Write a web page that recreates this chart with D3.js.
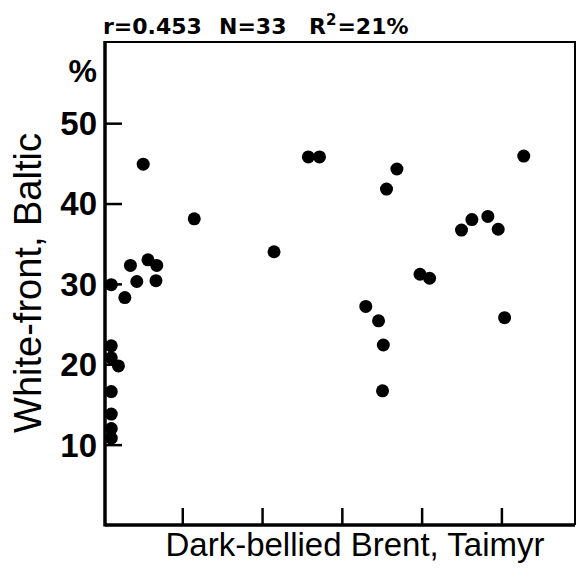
<!DOCTYPE html>
<html>
<head>
<meta charset="utf-8">
<script src="https://cdn.jsdelivr.net/npm/d3@7"></script>
<style>
  html, body { margin: 0; padding: 0; background: #fff; }
  svg { display: block; font-family: "Liberation Sans", Arial, sans-serif; }
</style>
</head>
<body>
<svg id="chart" width="577" height="569"></svg>
<script>
/* Scatter: White-front (Baltic) vs Dark-bellied Brent (Taimyr), % values. */

const brent = [5.1, 11.5, 21.5, 3.5, 5.7, 6.8, 4.3, 6.7, 2.8, 1.1, 1.1, 1.1, 2.0, 1.1, 1.1, 1.1, 1.1,
  25.8, 27.2, 36.9, 35.6, 52.8, 46.3, 45.0, 48.3, 49.6, 39.8, 41.0, 33.0, 34.6, 35.2, 35.1, 50.4];
const whiteFront = [44.9, 38.1, 34.0, 32.3, 33.0, 32.3, 30.3, 30.4, 28.3, 29.9, 22.3, 20.8, 19.8, 16.6, 13.8, 12.0, 10.8,
  45.8, 45.8, 44.3, 41.8, 45.9, 38.0, 36.7, 38.4, 36.8, 31.2, 30.7, 27.2, 25.4, 22.4, 16.7, 25.8];
const xTicks = [10, 20, 30, 40, 50];
const yTicks = [10, 20, 30, 40, 50];
const statsText = ["r=0.453", "N=33", "R"];

(() => {
  const svg = d3.select("#chart");
  const L = 105, R = 575, T = 42, B = 525;

  const x = d3.scaleLinear().domain([0, 59.1]).range([102.5, 574]);
  const y = d3.scaleLinear().domain([0, 60.1]).range([B, T]);

  // frame: thin top/right, heavy left/bottom
  svg.append("path")
    .attr("d", `M${L},${T}H${R}V${B}`)
    .attr("fill", "none").attr("stroke", "#000").attr("stroke-width", 2);

  // axes with inward ticks
  const xAxis = svg.append("g").attr("transform", `translate(0,${B})`)
    .call(d3.axisTop(x).tickValues(xTicks).tickSize(17).tickFormat(""));
  const yAxis = svg.append("g").attr("transform", `translate(${L},0)`)
    .call(d3.axisRight(y).tickValues(yTicks).tickSize(17).tickFormat(""));
  [xAxis, yAxis].forEach((g) => {
    g.select(".domain").remove();
    g.selectAll(".tick line").attr("stroke", "#000").attr("stroke-width", 2.5);
  });
  svg.append("line").attr("x1", L).attr("x2", R).attr("y1", B).attr("y2", B)
    .attr("stroke", "#000").attr("stroke-width", 3.5);
  svg.append("line").attr("x1", L).attr("x2", L).attr("y1", T - 1).attr("y2", B + 1.5)
    .attr("stroke", "#000").attr("stroke-width", 3.5);

  // y tick labels (outside)
  svg.append("g").selectAll("text").data(yTicks).join("text")
    .attr("x", 97).attr("y", (d) => y(d))
    .attr("dy", "0.36em").attr("text-anchor", "end")
    .attr("font-size", 33).attr("font-weight", "bold")
    .text((d) => d);

  svg.append("text").attr("x", 97).attr("y", 82).attr("text-anchor", "end")
    .attr("font-size", 32).attr("font-weight", "bold").text("%");

  // points
  svg.append("g").selectAll("circle").data(brent.map((b, i) => [b, whiteFront[i]])).join("circle")
    .attr("cx", (d) => x(d[0])).attr("cy", (d) => y(d[1])).attr("r", 6.5).attr("fill", "#000");

  // axis titles
  svg.append("text").attr("x", 355).attr("y", 556).attr("text-anchor", "middle")
    .attr("font-size", 33).text("Dark-bellied Brent, Taimyr");

  svg.append("text").attr("transform", "translate(41,283) rotate(-90)").attr("text-anchor", "middle")
    .attr("font-size", 38).text("White-front, Baltic");

  // stats line
  const sg = svg.append("g").attr("font-family", "'DejaVu Sans', sans-serif")
    .attr("font-size", 22).attr("font-weight", "bold");
  sg.append("text").attr("x", 103).attr("y", 34).text(statsText[0]);
  sg.append("text").attr("x", 219).attr("y", 34).text(statsText[1]);
  const r2 = sg.append("text").attr("x", 309).attr("y", 34).text(statsText[2]);
  r2.append("tspan").attr("dy", -9).attr("font-size", 15).text("2");
  r2.append("tspan").attr("dy", 9).attr("dx", 1).text("=21%");
})();
</script>
</body>
</html>
